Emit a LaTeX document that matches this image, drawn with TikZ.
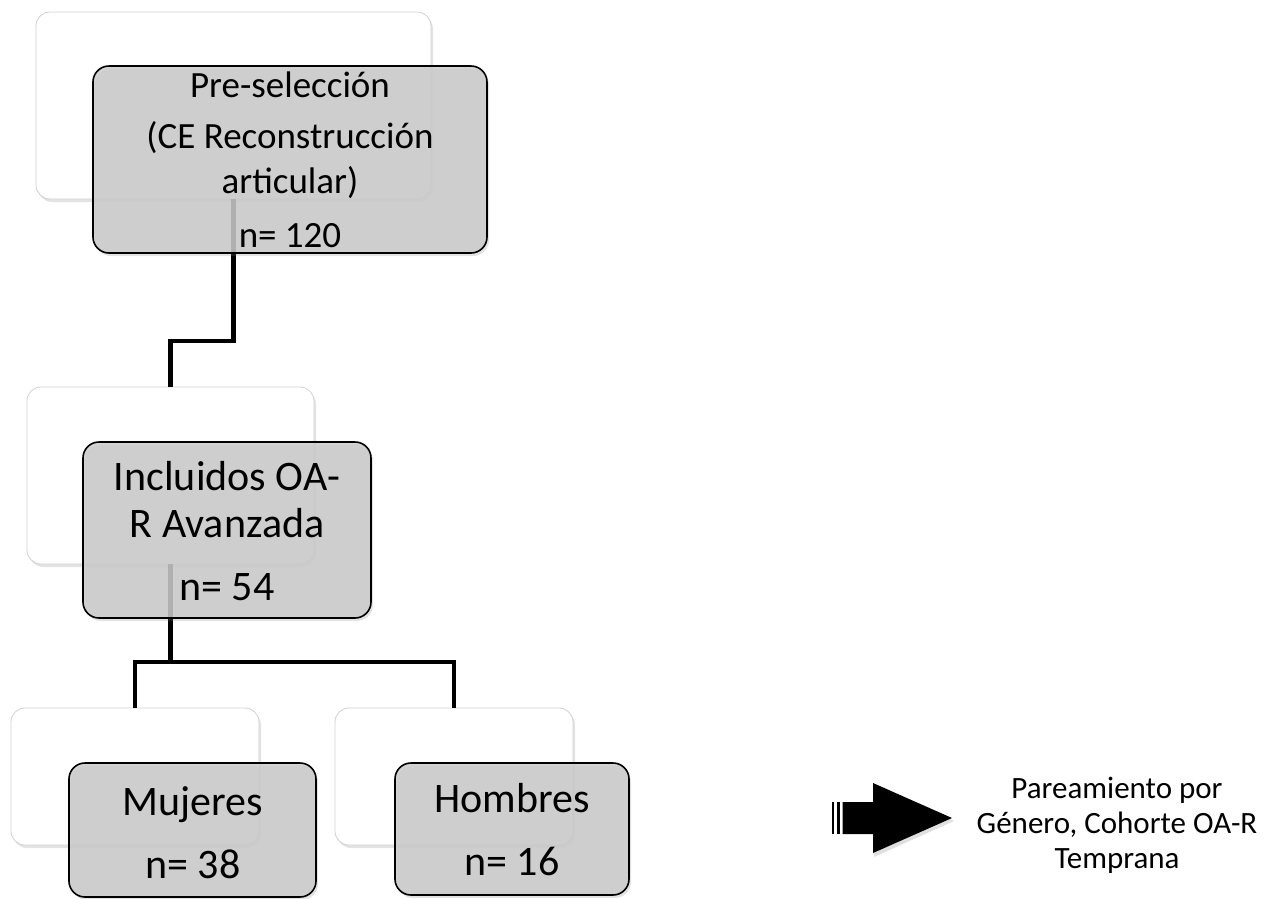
\documentclass[tikz,border=0pt]{standalone}
\usepackage{fontspec}
\setmainfont{Carlito}
\usetikzlibrary{shadows}
\definecolor{boxgray}{HTML}{CBCBCB}
\begin{document}
\begin{tikzpicture}[x=1pt,y=-1pt,
  backbox/.style={draw=black!18, line width=0.8pt, fill=white, rounded corners=14pt,
    inner sep=0pt, outer sep=0pt,
    drop shadow={opacity=0.22, shadow xshift=2pt, shadow yshift=-3pt}},
  frontbox/.style={draw=black, line width=1.6pt, fill=boxgray, fill opacity=0.85,
    rounded corners=16pt, inner sep=0pt, outer sep=0pt,
    drop shadow={opacity=0.22, shadow xshift=2pt, shadow yshift=-3pt}},
  link/.style={line width=4.5pt, draw=black},
  boxtext/.style={anchor=base, inner sep=0pt, text=black},
  bigtext/.style={boxtext, font=\fontsize{42}{48}\selectfont},
  toptext/.style={boxtext, font=\fontsize{37}{44}\selectfont},
  sidetext/.style={align=center, anchor=north, inner sep=0pt, font=\fontsize{31}{35}\selectfont}
]
\useasboundingbox (0,0) rectangle (1269,898);

% back (white) boxes
\node[backbox, minimum width=395pt, minimum height=187pt] (pre-w) at (233.5,105.5) {};
\node[backbox, minimum width=287pt, minimum height=177pt] (inc-w) at (170.5,475.5) {};
\node[backbox, minimum width=248pt, minimum height=137pt] (muj-w) at (135,776.5) {};
\node[backbox, minimum width=238pt, minimum height=137pt] (hom-w) at (454,776.5) {};

% connectors
\draw[link] (pre-w.south) -- ++(0,142) -| (inc-w.north);
\draw[link] (inc-w.south) -- ++(0,98) coordinate (split) -| (muj-w.north);
\draw[link] (split) -| (hom-w.north);

% front (gray) boxes
\node[frontbox, minimum width=394pt, minimum height=187pt] (pre) at (290,159.5) {};
\node[frontbox, minimum width=288pt, minimum height=176pt] (inc) at (227,530) {};
\node[frontbox, minimum width=247pt, minimum height=134pt] (muj) at (192.5,830) {};
\node[frontbox, minimum width=234pt, minimum height=132pt] (hom) at (512,829) {};

% texts
\node[toptext] (pre-1) at (290,97) {Pre-selección};
\node[toptext] (pre-2) at (290,148) {(CE Reconstrucción};
\node[toptext] (pre-3) at (290,193) {articular)};
\node[toptext] (pre-4) at (290,247) {n= 120};

\node[bigtext] (inc-1) at (227,490) {Incluidos OA-};
\node[bigtext] (inc-2) at (227,537) {R Avanzada};
\node[bigtext] (inc-3) at (227,600) {n= 54};

\node[bigtext] (muj-1) at (193,815) {Mujeres};
\node[bigtext] (muj-2) at (193,878) {n= 38};

\node[bigtext] (hom-1) at (512,812) {Hombres};
\node[bigtext] (hom-2) at (512,875) {n= 16};

% striped block arrow
\fill[black, opacity=0.12] (874,786) -- (954,821) -- (874,857) -- cycle;
\fill[black] (832,802) rectangle (834,834);
\fill[black] (836.5,802) rectangle (840,834);
\fill[black] (842.5,802) -- (873,802) -- (873,783) -- (952,818) -- (873,853) -- (873,834) -- (842.5,834) -- cycle;

\node[sidetext] (pair) at (1117,777) {Pareamiento por\\Género, Cohorte OA-R\\Temprana};
\end{tikzpicture}
\end{document}
